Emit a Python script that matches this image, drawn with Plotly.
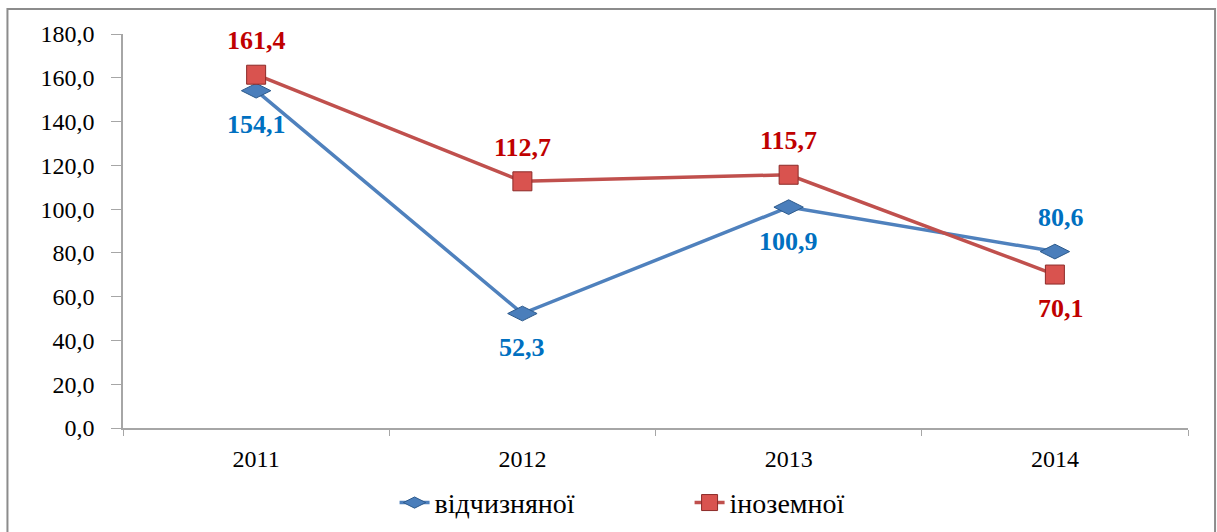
import plotly.graph_objects as go

years = ["2011", "2012", "2013", "2014"]
domestic = [154.1, 52.3, 100.9, 80.6]
foreign = [161.4, 112.7, 115.7, 70.1]
domestic_name = "відчизняної"
foreign_name = "іноземної"
# label placement: +1 above, -1 below
domestic_pos = [-1, -1, -1, 1]
foreign_pos = [1, 1, 1, -1]

FONT = "Liberation Serif"
BLUE_LINE = "#4F81BD"
RED_LINE = "#C0504D"
BLUE_TXT = "#0070C0"
RED_TXT = "#C00000"

fig = go.Figure()
fig.add_trace(go.Scatter(
    x=years, y=domestic, name=domestic_name, mode="lines+markers",
    line=dict(color=BLUE_LINE, width=3.5),
    marker=dict(symbol="diamond-wide", size=21, color="#4A7EBB",
                line=dict(color="#2C5A8C", width=1)),
))
fig.add_trace(go.Scatter(
    x=years, y=foreign, name=foreign_name, mode="lines+markers",
    line=dict(color=RED_LINE, width=3.5),
    marker=dict(symbol="square", size=19, color="#D9534F",
                line=dict(color="#8C2B28", width=1)),
))


def fmt(v):
    return f"{v:.1f}".replace(".", ",")


annotations = []
for ys, ps, col in [(domestic, domestic_pos, BLUE_TXT),
                    (foreign, foreign_pos, RED_TXT)]:
    for i, (y, p) in enumerate(zip(ys, ps)):
        annotations.append(dict(
            x=i, y=y, xref="x", yref="y",
            text="<b>" + fmt(y) + "</b>", showarrow=False,
            yshift=34 * p, xshift=6 if i == 3 else 0,
            font=dict(family=FONT, size=26, color=col),
        ))

fig.update_layout(
    width=1217, height=532,
    margin=dict(l=123, r=29, t=34, b=104, autoexpand=False),
    paper_bgcolor="white", plot_bgcolor="white",
    separators=", ",
    font=dict(family=FONT, size=24, color="black"),
    showlegend=True,
    legend=dict(orientation="h", x=0.255, xanchor="left",
                y=-0.19, yanchor="middle",
                entrywidth=250, entrywidthmode="pixels",
                font=dict(family=FONT, size=28, color="black"),
                traceorder="normal"),
    annotations=annotations,
    shapes=[dict(type="rect", xref="paper", yref="paper",
                 x0=-0.1085, x1=1.0254, y0=-0.28, y1=1.0635,
                 line=dict(color="#8C8C8C", width=2),
                 layer="below")],
)
fig.update_xaxes(
    type="category", range=[-0.5, 3.5], showgrid=False,
    showline=True, linecolor="#A6A6A6", linewidth=1.5,
    ticks="outside", tickson="boundaries", ticklen=6, tickcolor="#A6A6A6",
    ticklabelstandoff=8,
    tickfont=dict(family=FONT, size=24, color="black"),
)
fig.update_yaxes(
    range=[0, 180], dtick=20, tickformat=".1f", showgrid=False,
    showline=True, linecolor="#A6A6A6", linewidth=1.5,
    ticks="outside", ticklen=10, tickcolor="#A6A6A6",
    ticklabelstandoff=12,
    tickfont=dict(family=FONT, size=24, color="black"),
    zeroline=False,
)

fig.write_html("out.html", config={"displayModeBar": False},
               post_script="document.body.style.margin='0';")
